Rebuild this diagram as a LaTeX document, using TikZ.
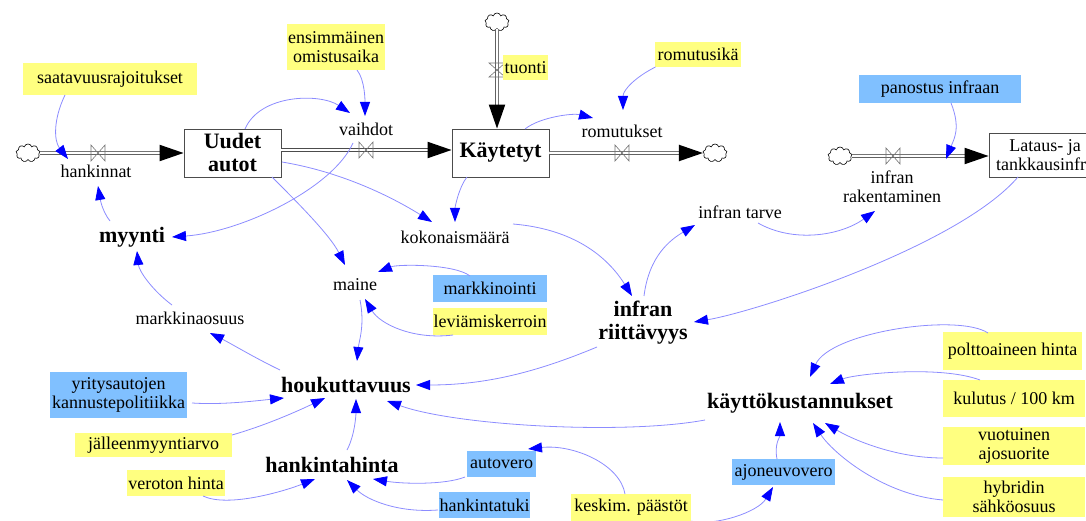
\documentclass[tikz,border=0pt]{standalone}
\usepackage{fontspec}
\setmainfont{Liberation Serif}
\usetikzlibrary{arrows.meta,shapes.symbols}
\definecolor{yel}{RGB}{255,255,128}
\definecolor{blu}{RGB}{128,192,255}
\definecolor{lnk}{RGB}{140,140,255}
\begin{document}
\begin{tikzpicture}[x=1pt,y=-1pt,
 txt/.style={font=\fontsize{18}{19.5}\selectfont, inner sep=1pt, align=center},
 bld/.style={font=\fontsize{22}{23}\selectfont\bfseries, inner sep=1pt, align=center},
 ybox/.style={txt, fill=yel, inner sep=0pt},
 bbox/.style={txt, fill=blu, inner sep=0pt},
 stock/.style={draw=black!70, line width=0.8pt, fill=white, align=center, inner sep=0pt},
 cloudy/.style={cloud, cloud puffs=9, draw, line width=0.6pt, minimum width=24pt, minimum height=18pt, inner sep=0pt},
 pipe/.style={draw=black!70, double=white, double distance=2.4pt, line width=0.7pt, shorten >=20pt},
 pipetip/.style={draw=white, line width=2pt, -{Triangle[length=24pt,width=16pt,fill=black,color=black]}},
 link/.style={draw=lnk, line width=0.8pt, -{Triangle[length=14pt,width=10pt,fill=blue,color=blue]}},
 valvepic/.pic={\draw[black!55,line width=0.6pt] (-7,-8)--(-7,8)--(7,-8)--(7,8)--cycle;}
]
\useasboundingbox (0,0) rectangle (1086,521);
\clip (0,0) rectangle (1086,521);

% clouds
\node[cloudy] (c1) at (28,153) {};
\node[cloudy] (c2) at (497,22) {};
\node[cloudy] (c3) at (715,153) {};
\node[cloudy] (c4) at (840,156) {};

% stocks
\node[stock, bld, minimum width=97pt, minimum height=48pt] (uudet) at (232.5,153) {Uudet\\autot};
\node[stock, bld, minimum width=97pt, minimum height=48pt] (kayt) at (500.5,153) {Käytetyt};
\node[stock, txt, inner sep=0pt, minimum width=112pt, minimum height=44pt] (lataus) at (1045,155) {Lataus- ja\\tankkausinfra};

% valves
\coordinate (v1) at (98,153);
\coordinate (v2) at (366,150);
\coordinate (v3) at (497,70);
\coordinate (v4) at (622,153);
\coordinate (v5) at (893,156);

% flows
\draw[pipe] (c1) -- (uudet.west);
\draw[pipetip] (c1) -- (uudet.west);
\draw[pipe] ([yshift=3pt]uudet.east) -- ([yshift=3pt]kayt.west);
\draw[pipetip] ([yshift=3pt]uudet.east) -- ([yshift=3pt]kayt.west);
\draw[pipe] (c2) -- (c2 |- kayt.north);
\draw[pipetip] (c2) -- (c2 |- kayt.north);
\draw[pipe] (kayt.east) -- (c3);
\draw[pipetip] (kayt.east) -- (c3);
\draw[pipe] (c4) -- (c4 -| lataus.west);
\draw[pipetip] (c4) -- (c4 -| lataus.west);

\pic at (v1) {valvepic};
\pic at (v2) {valvepic};
\pic[rotate=90] at (v3) {valvepic};
\pic at (v4) {valvepic};
\pic at (v5) {valvepic};

% plain variables
\node[txt] (hank) at (96,171) {hankinnat};
\node[txt] (vaih) at (366,129) {vaihdot};
\node[txt] (romu) at (622,131) {romutukset};
\node[txt] (infrak) at (892,187) {infran\\rakentaminen};
\node[txt] (tarve) at (740,212) {infran tarve};
\node[txt] (koko) at (455,237) {kokonaismäärä};
\node[txt] (maine) at (355,285) {maine};
\node[txt] (markos) at (190,318) {markkinaosuus};

\node[bld] (myynti) at (132,237) {myynti};
\node[bld] (houk) at (346,385) {houkuttavuus};
\node[bld] (hhinta) at (332,465) {hankintahinta};
\node[bld] (riitt) at (643,323) {infran\\riittävyys};
\node[bld] (kayttok) at (800,403) {käyttökustannukset};

% constants
\node[ybox, minimum width=174pt, minimum height=32pt] (saat) at (110,79) {saatavuusrajoitukset};
\node[ybox, minimum width=98pt, minimum height=46pt] (ensim) at (336,47) {ensimmäinen\\omistusaika};
\node[ybox, minimum width=45pt, minimum height=25pt] (tuonti) at (525.5,67.5) {tuonti};
\node[ybox, minimum width=86pt, minimum height=25pt] (romik) at (698,54.5) {romutusikä};
\node[bbox, minimum width=162pt, minimum height=28pt] (panostus) at (940,89) {panostus infraan};
\node[bbox, minimum width=114pt, minimum height=27pt] (markk) at (490,288.5) {markkinointi};
\node[ybox, minimum width=114pt, minimum height=27pt] (levi) at (490,321.5) {leviämiskerroin};
\node[bbox, minimum width=137pt, minimum height=46pt] (yrit) at (118.5,395) {yritysautojen\\kannustepolitiikka};
\node[ybox, minimum width=157pt, minimum height=24pt] (jalle) at (153.5,445) {jälleenmyyntiarvo};
\node[ybox, minimum width=98pt, minimum height=26pt] (vero) at (176,483) {veroton hinta};
\node[bbox, minimum width=69pt, minimum height=26pt] (autov) at (501.5,464) {autovero};
\node[bbox, minimum width=91pt, minimum height=26pt] (htuki) at (484.5,505) {hankintatuki};
\node[ybox, minimum width=120pt, minimum height=27pt] (kesk) at (631,507.5) {keskim. päästöt};
\node[bbox, minimum width=103pt, minimum height=26pt] (ajon) at (783.5,472) {ajoneuvovero};
\node[ybox, minimum width=139pt, minimum height=38pt] (poltt) at (1012.5,351) {polttoaineen hinta};
\node[ybox, minimum width=142pt, minimum height=37pt] (kulut) at (1014,398.5) {kulutus / 100 km};
\node[ybox, minimum width=142pt, minimum height=38pt] (vuot) at (1014,446) {vuotuinen\\ajosuorite};
\node[ybox, minimum width=142pt, minimum height=40pt] (hybr) at (1014,497) {hybridin\\sähköosuus};

% links
\draw[link] ([shift={(-45,16)}]saat.center) .. controls +(-12,25) and +(-14,-18) .. ([shift={(-28,-12)}]hank.center);
\draw[link] ([shift={(21,23)}]ensim.center) .. controls +(8,10) and +(0,-15) .. ([shift={(-1,-13)}]vaih.center);
\draw[link] ([shift={(12.5,-24)}]uudet.center) .. controls +(15,-35) and +(-30,-20) .. ([shift={(-16,-16)}]vaih.center);
\draw[link] ([shift={(-13,-7)}]v2) .. controls +(-20,45) and +(70,-5) .. ([shift={(40,0)}]myynti.center);
\draw[link] ([shift={(-22,-16)}]myynti.center) .. controls +(-8,-10) and +(2,12) .. ([shift={(2,15)}]hank.center);
\draw[link] ([shift={(49.5,9)}]uudet.center) .. controls +(60,10) and +(-40,-25) .. ([shift={(-23,-15)}]koko.center);
\draw[link] ([shift={(39.5,24)}]uudet.center) .. controls +(25,25) and +(-15,-30) .. ([shift={(-10,-20)}]maine.center);
\draw[link] ([shift={(-33.5,24)}]kayt.center) .. controls +(-8,10) and +(0,-15) .. ([shift={(0,-15)}]koko.center);
\draw[link] ([shift={(24.5,-24)}]kayt.center) .. controls +(15,-12) and +(-20,-5) .. ([shift={(-29,-13)}]romu.center);
\draw[link] ([shift={(-42.5,12.5)}]romik.center) .. controls +(-20,10) and +(0,-20) .. ([shift={(1,-21)}]romu.center);
\draw[link] ([shift={(58,-13)}]koko.center) .. controls +(60,5) and +(-25,-40) .. ([shift={(-11,-27)}]riitt.center);
\draw[link] ([shift={(1,-27)}]riitt.center) .. controls +(5,-40) and +(-25,15) .. ([shift={(-45,13)}]tarve.center);
\draw[link] ([shift={(18,11)}]tarve.center) .. controls +(35,20) and +(-35,25) .. ([shift={(-17,24)}]infrak.center);
\draw[link] ([shift={(11,14)}]panostus.center) .. controls +(10,25) and +(8,-20) .. ([shift={(-99,4)}]lataus.center);
\draw[link] ([shift={(-27,22)}]lataus.center) .. controls +(-60,70) and +(60,-10) .. ([shift={(51,-1)}]riitt.center);
\draw[link] ([shift={(-20,-12.5)}]markk.center) .. controls +(-15,-12) and +(20,-8) .. ([shift={(23,-13)}]maine.center);
\draw[link] ([shift={(-37,13.5)}]levi.center) .. controls +(-40,5) and +(15,25) .. ([shift={(10,14)}]maine.center);
\draw[link] ([shift={(5,15)}]maine.center) .. controls +(5,25) and +(2,-20) .. ([shift={(11,-24)}]houk.center);
\draw[link] ([shift={(-66,-15)}]houk.center) .. controls +(-25,-12) and +(20,10) .. ([shift={(20,15)}]markos.center);
\draw[link] ([shift={(-18,-13)}]markos.center) .. controls +(-20,-15) and +(2,20) .. ([shift={(5,14)}]myynti.center);
\draw[link] ([shift={(73.5,8)}]yrit.center) .. controls +(30,2) and +(-30,3) .. ([shift={(-62,13)}]houk.center);
\draw[link] ([shift={(78.5,-10)}]jalle.center) .. controls +(35,-10) and +(-25,12) .. ([shift={(-21,13)}]houk.center);
\draw[link] ([shift={(15,-15)}]hhinta.center) .. controls +(8,-15) and +(0,15) .. ([shift={(10,14)}]houk.center);
\draw[link] ([shift={(-46,24)}]riitt.center) .. controls +(-60,25) and +(70,0) .. ([shift={(70,0)}]houk.center);
\draw[link] ([shift={(-95,17)}]kayttok.center) .. controls +(-80,15) and +(70,25) .. ([shift={(41,16)}]houk.center);
\draw[link] ([shift={(27,13)}]vero.center) .. controls +(25,12) and +(-30,12) .. ([shift={(-17,14)}]hhinta.center);
\draw[link] ([shift={(-36.5,13)}]autov.center) .. controls +(-20,8) and +(30,5) .. ([shift={(41,14)}]hhinta.center);
\draw[link] ([shift={(-46.5,5)}]htuki.center) .. controls +(-40,3) and +(20,20) .. ([shift={(15,15)}]hhinta.center);
\draw[link] ([shift={(-6,-13.5)}]kesk.center) .. controls +(-5,-30) and +(45,-5) .. ([shift={(26.5,-15)}]autov.center);
\draw[link] (kesk.south east) .. controls +(25,5) and +(-15,25) .. ([shift={(-10.5,15)}]ajon.center);
\draw[link] ([shift={(-6.5,-13)}]ajon.center) .. controls +(-3,-15) and +(0,15) .. ([shift={(-20,19)}]kayttok.center);
\draw[link] ([shift={(-24.5,-18)}]poltt.center) .. controls +(-30,-20) and +(20,-45) .. ([shift={(10,-26)}]kayttok.center);
\draw[link] ([shift={(-34,-18.5)}]kulut.center) .. controls +(-40,-15) and +(25,-10) .. ([shift={(30,-19)}]kayttok.center);
\draw[link] ([shift={(-71,12)}]vuot.center) .. controls +(-50,0) and +(25,15) .. ([shift={(25,20)}]kayttok.center);
\draw[link] ([shift={(-71,3)}]hybr.center) .. controls +(-60,-5) and +(20,30) .. ([shift={(13,20)}]kayttok.center);
\end{tikzpicture}
\end{document}
